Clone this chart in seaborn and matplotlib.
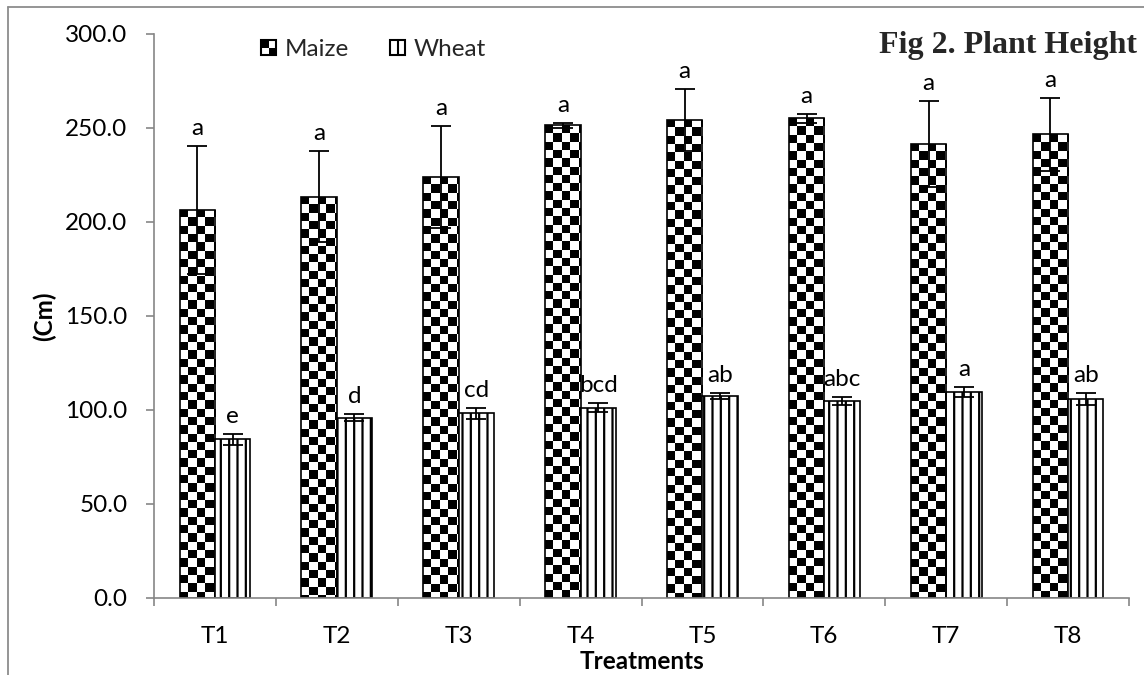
import numpy as np
import pandas as pd
import matplotlib
matplotlib.use("Agg")
import matplotlib.pyplot as plt
import seaborn as sns
from matplotlib.patches import Rectangle
from matplotlib.lines import Line2D
from matplotlib.legend_handler import HandlerBase
from matplotlib.colors import ListedColormap
from matplotlib.ticker import FormatStrFormatter

# ---------------- data ----------------
treatments = ["T1", "T2", "T3", "T4", "T5", "T6", "T7", "T8"]
crops = ["Maize", "Wheat"]
maize = [206.5, 213.5, 224.0, 251.4, 254.4, 255.2, 241.5, 246.6]
maize_err = [34.0, 24.4, 27.0, 1.5, 16.6, 2.4, 23.0, 19.5]
wheat = [84.4, 96.0, 98.2, 101.2, 107.3, 105.0, 109.7, 105.9]
wheat_err = [2.8, 1.8, 3.0, 2.3, 1.6, 2.1, 2.7, 3.0]
maize_letters = ["a", "a", "a", "a", "a", "a", "a", "a"]
wheat_letters = ["e", "d", "cd", "bcd", "ab", "abc", "a", "ab"]
title = "Fig 2. Plant Height"
xlabel = "Treatments"
ylabel = "(Cm)"

# ---------------- style ----------------
sns.set_style("white")
plt.rcParams["font.family"] = ["Lato", "DejaVu Sans"]
plt.rcParams["hatch.linewidth"] = 1.6
plt.rcParams["hatch.color"] = "black"
FS = 17.5

W, H = 1144, 675
fig = plt.figure(figsize=(W / 100, H / 100), dpi=100)
ax = fig.add_axes([154 / W, 1 - 598 / H, (1129 - 154) / W, (598 - 34) / H])

df = pd.DataFrame({
    "Treatment": treatments * 2,
    "Crop": [crops[0]] * len(treatments) + [crops[1]] * len(treatments),
    "Height": maize + wheat,
})

sns.barplot(data=df, x="Treatment", y="Height", hue="Crop", order=treatments,
            hue_order=crops, palette={"Maize": "white", "Wheat": "white"},
            edgecolor="black", linewidth=1.2, width=0.58, gap=0,
            errorbar=None, legend=False, ax=ax, zorder=2)

maize_bars, wheat_bars = ax.containers[0], ax.containers[1]
ax.set_xlim(-0.5, len(treatments) - 0.5)
ax.set_ylim(0, 300)

# wheat: vertical stripes
for b in wheat_bars:
    b.set_hatch("||")

# maize: checkerboard fill clipped to each bar
p0 = ax.transData.transform((0, 0))
p1 = ax.transData.transform((1, 1))
cw = 8.3 / (p1[0] - p0[0])
ch = 8.3 / (p1[1] - p0[1])
cmap = ListedColormap(["white", "black"])
for b in maize_bars:
    x0, y0, w, h = b.get_x(), b.get_y(), b.get_width(), b.get_height()
    nc = int(np.ceil(w / cw))
    nr = int(np.ceil(h / ch))
    arr = (np.indices((nr, nc)).sum(axis=0) + 1) % 2
    im = ax.imshow(arr, cmap=cmap, vmin=0, vmax=1, origin="upper",
                   extent=(x0, x0 + nc * cw, y0 + h - nr * ch, y0 + h),
                   interpolation="nearest", aspect="auto", zorder=1.9)
    im.set_clip_path(b)
    b.set_facecolor("none")

ax.set_xlim(-0.5, len(treatments) - 0.5)
ax.set_ylim(0, 300)

# error bars + letters
for bars, vals, errs, letters in [(maize_bars, maize, maize_err, maize_letters),
                                  (wheat_bars, wheat, wheat_err, wheat_letters)]:
    xs = [b.get_x() + b.get_width() / 2 for b in bars]
    ax.errorbar(xs, vals, yerr=errs, fmt="none", ecolor="black", elinewidth=1.3,
                capsize=7, capthick=1.3, zorder=4)
    for x, v, e, t in zip(xs, vals, errs, letters):
        ax.annotate(t, (x, v + e), xytext=(0, 7), textcoords="offset pixels",
                    ha="center", va="bottom", fontsize=FS, color="black")

# axes styling
grey = "#868686"
for s in ["top", "right"]:
    ax.spines[s].set_visible(False)
for s in ["left", "bottom"]:
    ax.spines[s].set_color(grey)
    ax.spines[s].set_linewidth(1.2)

ax.set_xticks(range(len(treatments)))
ax.set_xticklabels(treatments)
ax.set_xticks(np.arange(-0.5, len(treatments), 1), minor=True)
ax.tick_params(axis="x", which="major", bottom=True, length=0, pad=20,
               labelsize=FS, labelcolor="black")
ax.tick_params(axis="x", which="minor", bottom=True, length=6, width=1.2,
               color=grey, direction="out")
ax.set_yticks(np.arange(0, 301, 50))
ax.yaxis.set_major_formatter(FormatStrFormatter("%.1f"))
ax.tick_params(axis="y", left=True, length=6, width=1.2, color=grey, pad=13,
               labelsize=FS, labelcolor="black", direction="out")

ax.set_xlabel(xlabel, fontsize=FS, fontweight="bold", color="black")
ax.xaxis.set_label_coords(0.5, -0.093)
ax.set_ylabel(ylabel, fontsize=FS, fontweight="bold", color="black")
ax.yaxis.set_label_coords(-0.100, 0.5)


# legend with custom square handles
class SquareHandler(HandlerBase):
    def __init__(self, kind):
        super().__init__()
        self.kind = kind

    def create_artists(self, legend, orig_handle, xdescent, ydescent, width,
                       height, fontsize, trans):
        s = min(width, height)
        x0 = -xdescent
        y0 = -ydescent + (height - s) / 2
        arts = []
        if self.kind == "checker":
            arts.append(Rectangle((x0, y0 + s / 2), s / 2, s / 2, fc="black",
                                  ec="none", transform=trans))
            arts.append(Rectangle((x0 + s / 2, y0), s / 2, s / 2, fc="black",
                                  ec="none", transform=trans))
        else:
            arts.append(Line2D([x0 + s / 2] * 2, [y0, y0 + s], color="black",
                               lw=1.5, transform=trans))
        arts.append(Rectangle((x0, y0), s, s, fc="none", ec="black", lw=1.5,
                              transform=trans))
        return arts


h_m = Rectangle((0, 0), 1, 1)
h_w = Rectangle((0, 0), 1, 1)
ax.legend([h_m, h_w], crops, ncol=2, frameon=False, fontsize=FS,
          handler_map={h_m: SquareHandler("checker"), h_w: SquareHandler("stripe")},
          handlelength=0.62, handleheight=0.62, handletextpad=0.35,
          columnspacing=1.7, borderpad=0, borderaxespad=0, loc="center left",
          bbox_to_anchor=(261 / W, 1 - 50 / H), bbox_transform=fig.transFigure)

# title
fig.text(1137 / W, 1 - 53 / H, title, ha="right", va="baseline", fontsize=23,
         fontweight="bold", family=["Liberation Serif", "DejaVu Serif"])

# outer frame (top and left edges)
fig.add_artist(Line2D([8 / W, 1], [1 - 7 / H] * 2, transform=fig.transFigure,
                      color="#8c8c8c", lw=1.3))
fig.add_artist(Line2D([8 / W] * 2, [1 - 7 / H, 0], transform=fig.transFigure,
                      color="#8c8c8c", lw=1.3))

fig.savefig("out.png", dpi=100)
